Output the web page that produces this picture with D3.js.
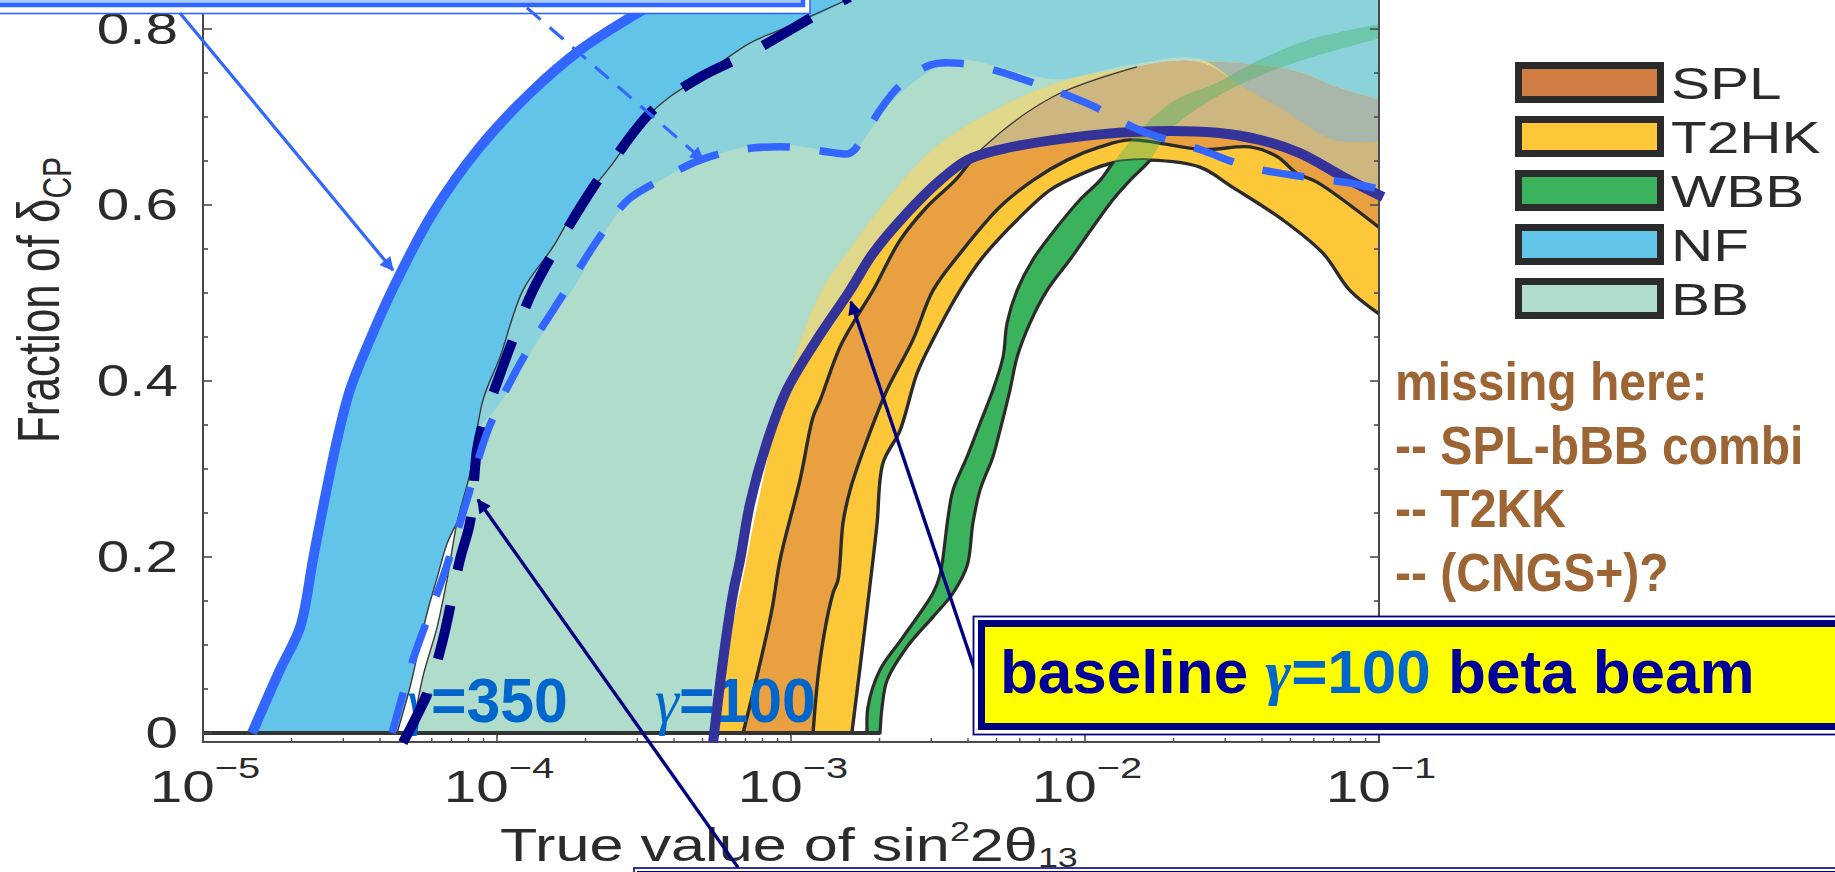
<!DOCTYPE html>
<html>
<head>
<meta charset="utf-8">
<title>Fraction of δCP vs sin²2θ13</title>
<script src="https://cdn.jsdelivr.net/npm/d3@7/dist/d3.min.js"></script>
<style>
  html, body { margin: 0; padding: 0; background: #fff; overflow: hidden; }
  svg { display: block; }
  text { font-family: "Liberation Sans", Arial, Helvetica, sans-serif; }
</style>
</head>
<body>
<svg id="chart" width="1835" height="872"></svg>
<script>
// Every curve point is [log10(sin²2θ13), fraction of δCP].

// Neutrino factory band: optimistic edge and pessimistic edge
const nfBest = [[-4.833,0],[-4.738,0.072],[-4.670,0.120],[-4.626,0.197],[-4.602,0.239],[-4.544,0.333],
  [-4.500,0.390],[-4.442,0.439],[-4.354,0.505],[-4.218,0.591],[-4.058,0.666],[-3.888,0.727],
  [-3.718,0.776],[-3.503,0.822],[-3.446,0.833]];
const nfWorst = [[-4.340,0],[-4.296,0.052],[-4.262,0.102],[-4.235,0.140],[-4.204,0.176],[-4.170,0.215],
  [-4.136,0.239],[-4.092,0.295],[-4.062,0.345],[-4.000,0.370],[-3.946,0.398],[-3.810,0.473],
  [-3.741,0.505],[-3.571,0.598],[-3.401,0.636],[-3.310,0.651],[-3.082,0.670],[-2.935,0.665],
  [-2.799,0.657],[-2.741,0.680],[-2.663,0.716],[-2.561,0.745],[-2.449,0.765],[-2.313,0.759],
  [-2.197,0.748],[-2.085,0.743],[-1.837,0.760],[-1.609,0.766],[-1.473,0.736],[-1.327,0.708],
  [-1.156,0.674],[-0.99,0.672]];

// Beta beam band: left edge; its right edge is the γ=100 curve
const bbLeft = [[-4.290,0],[-4.286,0.007],[-4.252,0.064],[-4.204,0.120],[-4.170,0.174],[-4.136,0.239],
  [-4.092,0.295],[-4.048,0.378],[-3.990,0.427],[-3.912,0.503],[-3.810,0.552],[-3.741,0.591],
  [-3.616,0.643],[-3.558,0.670],[-3.490,0.700],[-3.412,0.723],[-3.310,0.745],[-3.140,0.784],
  [-3.037,0.799],[-2.810,0.833]];
const gamma100 = [[-3.265,-0.011],[-3.231,0.083],[-3.197,0.159],[-3.173,0.197],[-3.139,0.261],
  [-3.082,0.330],[-3.014,0.390],[-2.912,0.447],[-2.799,0.503],[-2.721,0.545],[-2.605,0.591],
  [-2.493,0.628],[-2.401,0.651],[-2.289,0.663],[-2.061,0.676],[-1.837,0.683],[-1.551,0.682],
  [-1.405,0.674],[-1.269,0.659],[-1.122,0.632],[-0.986,0.609]];

// γ=350 curves
const gamma350 = [[-4.320,-0.011],[-4.238,0.045],[-4.184,0.106],[-4.126,0.197],[-4.092,0.239],
  [-4.068,0.322],[-4.048,0.352],[-4.000,0.398],[-3.946,0.447],[-3.878,0.503],[-3.810,0.545],
  [-3.673,0.620],[-3.605,0.651],[-3.469,0.708],[-3.310,0.745],[-3.139,0.773],[-2.867,0.825],
  [-2.800,0.836]];
const gamma350b = [[-4.357,0],[-4.286,0.083],[-4.238,0.128],[-4.184,0.177],[-4.102,0.265],
  [-4.031,0.344],[-3.918,0.422],[-3.793,0.489],[-3.650,0.564],[-3.554,0.606],[-3.446,0.628],
  [-3.310,0.651],[-3.173,0.663],[-3.003,0.666],[-2.867,0.660],[-2.799,0.659],[-2.748,0.680],
  [-2.697,0.708],[-2.629,0.736],[-2.527,0.759],[-2.425,0.761],[-2.306,0.753],[-2.153,0.736],
  [-1.983,0.714],[-1.813,0.685],[-1.609,0.663],[-1.439,0.643],[-1.235,0.631],[-1.099,0.625],
  [-0.986,0.617]];

// T2HK band
const t2hkUpper = [[-3.245,0],[-3.222,0.083],[-3.165,0.174],[-3.110,0.265],[-3.022,0.390],
  [-2.895,0.503],[-2.810,0.545],[-2.673,0.606],[-2.517,0.663],[-2.289,0.711],[-2.061,0.742],
  [-1.837,0.756],[-1.609,0.763],[-1.405,0.759],[-1.269,0.751],[-1.143,0.734],[-0.99,0.719]];
const t2hkLower = [[-2.793,0],[-2.765,0.075],[-2.721,0.197],[-2.707,0.239],[-2.687,0.307],
  [-2.629,0.344],[-2.571,0.409],[-2.517,0.447],[-2.425,0.503],[-2.347,0.541],[-2.231,0.583],
  [-2.119,0.617],[-2.007,0.636],[-1.905,0.648],[-1.779,0.651],[-1.609,0.643],[-1.497,0.620],
  [-1.327,0.583],[-1.190,0.545],[-1.099,0.503],[-0.99,0.474]];

// SPL band
const splUpper = [[-3.163,0],[-3.116,0.064],[-3.065,0.140],[-3.037,0.197],[-2.969,0.288],
  [-2.925,0.359],[-2.901,0.378],[-2.833,0.439],[-2.776,0.473],[-2.721,0.503],[-2.629,0.560],
  [-2.537,0.598],[-2.442,0.628],[-2.347,0.665],[-2.109,0.723],[-1.823,0.757],[-1.609,0.762],
  [-1.473,0.736],[-1.327,0.708],[-1.156,0.674],[-0.99,0.672]];
const splLower = [[-2.925,0],[-2.901,0.083],[-2.857,0.159],[-2.840,0.174],[-2.823,0.239],
  [-2.799,0.276],[-2.741,0.333],[-2.673,0.390],[-2.585,0.447],[-2.517,0.503],[-2.425,0.545],
  [-2.289,0.598],[-2.177,0.628],[-2.061,0.651],[-1.949,0.666],[-1.847,0.674],[-1.599,0.663],
  [-1.439,0.666],[-1.347,0.655],[-1.279,0.636],[-1.211,0.626],[-0.99,0.572]];

// Wide band beam band
const wbbLeft = [[-2.741,0],[-2.738,0.030],[-2.697,0.072],[-2.619,0.109],[-2.517,0.159],
  [-2.493,0.180],[-2.466,0.245],[-2.449,0.276],[-2.401,0.314],[-2.357,0.352],[-2.313,0.390],
  [-2.279,0.427],[-2.265,0.466],[-2.231,0.503],[-2.177,0.538],[-2.095,0.575],[-2.017,0.606],
  [-1.949,0.628],[-1.905,0.648],[-1.813,0.685],[-1.694,0.719],[-1.551,0.739],[-1.405,0.765],
  [-1.235,0.788],[-0.99,0.806]];
const wbbRight = [[-2.697,0],[-2.690,0.030],[-2.673,0.060],[-2.605,0.098],[-2.517,0.132],
  [-2.449,0.159],[-2.401,0.190],[-2.381,0.239],[-2.357,0.276],[-2.313,0.314],[-2.289,0.344],
  [-2.255,0.390],[-2.231,0.427],[-2.187,0.466],[-2.129,0.503],[-2.051,0.538],[-1.973,0.575],
  [-1.905,0.606],[-1.847,0.628],[-1.779,0.651],[-1.711,0.685],[-1.531,0.727],[-1.327,0.757],
  [-1.143,0.776],[-0.99,0.790]];

// Axes
const yTicks = [0, 0.2, 0.4, 0.6, 0.8];
const yTickLabels = ['0', '0.2', '0.4', '0.6', '0.8'];
const xTicks = [-5, -4, -3, -2, -1];
const xTickExponents = ['\u22125', '\u22124', '\u22123', '\u22122', '\u22121'];

// Legend
const legendNames = ['SPL', 'T2HK', 'WBB', 'NF', 'BB'];
const legendColors = ['#D07C45', '#FCC83A', '#3BB25C', '#62C4E8', '#B0DCCC'];

// Side note
const missingLines = ['missing here:', '-- SPL-bBB combi', '-- T2KK', '-- (CNGS+)?'];

// Annotation arrows: [from, to]
const arrowNF = [[-5.078, 0.818], [-4.354, 0.526]];
const arrowDashed = [[-3.898, 0.824], [-3.299, 0.651]];
const arrowBottom = [[-3.180, -0.153], [-4.065, 0.265]];
const arrowBaseline = [[-2.367, 0.064], [-2.796, 0.490]];

// ---------------------------------------------------------------
const svg = d3.select('#chart');
const x = d3.scaleLinear().domain([-5, -1]).range([203, 1379]);
const y = d3.scaleLinear().domain([0, 1]).range([733, -147]);
const padV = 0.0102;          // frame padding below 0 / above 1
const stretch = 1.33;         // horizontal stretch of the plot lettering

const lineGen = d3.line().x(d => x(d[0])).y(d => y(d[1])).curve(d3.curveCatmullRom.alpha(0.5));
const straight = d3.line().x(d => x(d[0])).y(d => y(d[1]));
const bandPath = (a, b) => lineGen(a) + lineGen(b.slice().reverse()).replace(/^M/, 'L') + 'Z';
const closeTop = [[-2.0, 1.06], [-0.9, 1.06]];

const nfPath = bandPath(nfBest.concat(closeTop), nfWorst);
const bbRight = [[-3.262, 0]].concat(gamma100.slice(1));
const bbPath = bandPath(bbLeft.concat(closeTop), bbRight);
const t2Path = bandPath(t2hkUpper, t2hkLower);
const splPath = bandPath(splUpper, splLower);
const wbbPath = bandPath(wbbLeft, wbbRight);

const defs = svg.append('defs');
defs.append('clipPath').attr('id', 'plotArea').append('rect')
  .attr('x', x(-5)).attr('y', y(1 + padV))
  .attr('width', x(-1) - x(-5)).attr('height', y(-padV) - y(1 + padV));
defs.append('clipPath').attr('id', 'inBB').append('path').attr('d', bbPath);
defs.append('clipPath').attr('id', 'inNF').append('path').attr('d', nfPath);

function makeMask(id, holes) {
  const m = defs.append('mask').attr('id', id).attr('maskUnits', 'userSpaceOnUse')
    .attr('x', 0).attr('y', -200).attr('width', 1835).attr('height', 1100);
  m.append('rect').attr('x', 0).attr('y', -200).attr('width', 1835).attr('height', 1100).attr('fill', '#fff');
  holes.forEach(p => m.append('path').attr('d', p).attr('fill', '#000'));
}
makeMask('openArea', [nfPath, bbPath, t2Path]);
makeMask('outsideBB', [bbPath]);

function marker(id, color) {
  defs.append('marker').attr('id', id).attr('viewBox', '0 0 10 10')
    .attr('refX', 9).attr('refY', 5).attr('markerWidth', 17).attr('markerHeight', 14)
    .attr('markerUnits', 'userSpaceOnUse').attr('orient', 'auto')
    .append('path').attr('d', 'M0,0L10,5L0,10Z').attr('fill', color);
}
marker('headBlue', '#3366FF');
marker('headNavy', '#000080');

// ---------------- filled bands ----------------
const fills = svg.append('g').attr('clip-path', 'url(#plotArea)');
const edgeDark = '#2b2b2b';

fills.append('path').attr('d', nfPath).attr('fill', '#62C4E8');
fills.append('path').attr('d', bbPath).attr('fill', '#B0DCCC');
fills.append('path').attr('d', nfPath).attr('fill', '#8CD2DB').attr('clip-path', 'url(#inBB)');
fills.append('path').attr('d', lineGen(bbLeft)).attr('fill', 'none')
  .attr('stroke', '#3a3a3a').attr('stroke-width', 1.4);
fills.append('path').attr('d', lineGen(nfWorst.slice(0, 7))).attr('fill', 'none')
  .attr('stroke', '#3a3a3a').attr('stroke-width', 1.4);

fills.append('path').attr('d', t2Path).attr('fill', '#FCC83A');
fills.append('path').attr('d', t2Path).attr('fill', '#DFD789').attr('clip-path', 'url(#inBB)');
fills.append('path').attr('d', t2Path).attr('fill', '#A9B7AA').attr('clip-path', 'url(#inNF)');
fills.append('path').attr('d', splPath).attr('fill', '#E8A040');
fills.append('path').attr('d', splPath).attr('fill', '#CDB67F').attr('clip-path', 'url(#inBB)');

// band outlines: heavy in the open, hairline where the beta beam shading covers them
const heavy = fills.append('g').attr('mask', 'url(#outsideBB)');
[t2hkLower, splUpper, splLower].forEach(c =>
  heavy.append('path').attr('d', lineGen(c)).attr('fill', 'none')
    .attr('stroke', edgeDark).attr('stroke-width', 3.4).attr('stroke-linejoin', 'round'));
fills.append('g').attr('clip-path', 'url(#inBB)')
  .append('path').attr('d', lineGen(splUpper.slice(0, 16))).attr('fill', 'none')
  .attr('stroke', '#3a3a3a').attr('stroke-width', 1.2);

// WBB: translucent where it crosses other bands, solid with outline in the open
fills.append('path').attr('d', wbbPath).attr('fill', '#3BB25C').attr('fill-opacity', 0.36);
fills.append('path').attr('d', wbbPath).attr('fill', '#3BB25C')
  .attr('stroke', edgeDark).attr('stroke-width', 3.2).attr('stroke-linejoin', 'round')
  .attr('mask', 'url(#openArea)');

// zero baseline of the bands
fills.append('line').attr('x1', x(-5)).attr('x2', x(wbbRight[0][0]))
  .attr('y1', y(0)).attr('y2', y(0)).attr('stroke', '#333').attr('stroke-width', 4);

// ---------------- frame and ticks ----------------
const frame = svg.append('g').attr('stroke', '#4a4a4a').attr('fill', 'none');
const fTop = y(1 + padV), fBot = y(-padV), fL = x(-5), fR = x(-1);
frame.append('rect').attr('x', fL).attr('y', fTop).attr('width', fR - fL).attr('height', fBot - fTop)
  .attr('stroke-width', 2);
d3.range(0, 1.0001, 0.05).forEach(v => {
  const major = Math.abs(v * 5 - Math.round(v * 5)) < 1e-6;
  const len = major ? 9 : 5;
  frame.append('line').attr('x1', fL).attr('x2', fL + len).attr('y1', y(v)).attr('y2', y(v)).attr('stroke-width', 1.6);
  frame.append('line').attr('x1', fR).attr('x2', fR - len).attr('y1', y(v)).attr('y2', y(v)).attr('stroke-width', 1.6);
});
xTicks.forEach((e, i) => {
  frame.append('line').attr('x1', x(e)).attr('x2', x(e)).attr('y1', fBot).attr('y2', fBot - 7).attr('stroke-width', 1.6);
  if (i < xTicks.length - 1) d3.range(2, 10).forEach(k => {
    const xv = x(e + Math.log10(k));
    frame.append('line').attr('x1', xv).attr('x2', xv).attr('y1', fBot).attr('y2', fBot - 4).attr('stroke-width', 1.4);
  });
});

// ---------------- tick labels and titles ----------------
const labelInk = '#2b2b2b';
yTicks.forEach((v, i) => {
  svg.append('g').attr('transform', `translate(178,${y(v) + 15}) scale(${stretch},1)`)
    .append('text').attr('text-anchor', 'end').attr('font-size', 44).attr('fill', labelInk)
    .text(yTickLabels[i]);
});
xTicks.forEach((e, i) => {
  const t = svg.append('g').attr('transform', `translate(${x(e) + 2},802) scale(${stretch},1)`)
    .append('text').attr('text-anchor', 'middle').attr('font-size', 44).attr('fill', labelInk);
  t.append('tspan').text('10');
  t.append('tspan').attr('font-size', 30).attr('dy', -24).text(xTickExponents[i]);
});

const xTitle = svg.append('g').attr('transform', `translate(500,861) scale(${stretch},1)`)
  .append('text').attr('font-size', 46).attr('fill', labelInk);
xTitle.append('tspan').text('True value of sin');
xTitle.append('tspan').attr('font-size', 27).attr('dy', -20).text('2');
xTitle.append('tspan').attr('dy', 20).text('2\u03B8');
xTitle.append('tspan').attr('font-size', 27).attr('dy', 6).text('13');

const yTitle = svg.append('g').attr('transform', `translate(59,300) scale(${stretch},1) rotate(-90)`)
  .append('text').attr('text-anchor', 'middle').attr('font-size', 44).attr('fill', labelInk);
yTitle.append('tspan').text('Fraction of \u03B4');
yTitle.append('tspan').attr('font-size', 30).attr('dy', 9).text('CP');

// ---------------- legend ----------------
legendNames.forEach((name, i) => {
  const top = 62 + i * 54;
  svg.append('rect').attr('x', 1518.5).attr('y', top + 3.5).attr('width', 142).attr('height', 34)
    .attr('fill', legendColors[i]).attr('stroke', '#2b2b2b').attr('stroke-width', 7);
  svg.append('g').attr('transform', `translate(1671,${top + 37}) scale(${stretch},1)`)
    .append('text').attr('font-size', 44).attr('fill', labelInk).text(name);
});

// ---------------- side note ----------------
missingLines.forEach((s, i) => {
  svg.append('g').attr('transform', `translate(1395,${400 + i * 63.5}) scale(0.89,1)`)
    .append('text').attr('font-size', 54).attr('font-weight', 'bold')
    .attr('fill', '#9D6534').text(s);
});

// ---------------- γ labels on the plot ----------------
function gammaLabel(xpx, txt) {
  const t = svg.append('g').attr('transform', `translate(${xpx},722) scale(0.965,1)`)
    .append('text').attr('font-size', 63).attr('font-weight', 'bold').attr('fill', '#0066CC');
  t.append('tspan').attr('font-family', '"Liberation Serif", "DejaVu Serif", serif')
    .attr('font-style', 'italic').attr('font-weight', 'normal').text('\u03B3');
  t.append('tspan').text(txt);
}
gammaLabel(407, '=350');
gammaLabel(655, '=100');

// ---------------- overlay curves ----------------
svg.append('path').attr('d', lineGen(gamma100)).attr('fill', 'none')
  .attr('stroke', '#333399').attr('stroke-width', 10);
svg.append('path').attr('d', lineGen(gamma350)).attr('fill', 'none')
  .attr('stroke', '#000080').attr('stroke-width', 10).attr('stroke-dasharray', '55,36');
svg.append('path').attr('d', lineGen(gamma350b)).attr('fill', 'none')
  .attr('stroke', '#3366FF').attr('stroke-width', 7.5).attr('stroke-dasharray', '42,30');
svg.append('path').attr('d', lineGen(nfBest)).attr('fill', 'none')
  .attr('stroke', '#3366FF').attr('stroke-width', 10);

// ---------------- call-out boxes and arrows ----------------
// box at the top (continues above the page)
svg.append('rect').attr('x', -20).attr('y', -60).attr('width', 830).attr('height', 73.5)
  .attr('fill', '#fff').attr('stroke', '#3366FF').attr('stroke-width', 1.6);
svg.append('rect').attr('x', -15).attr('y', -55).attr('width', 818).attr('height', 60)
  .attr('fill', '#A9CCFF').attr('stroke', '#3366FF').attr('stroke-width', 4.5);

svg.append('path').attr('d', straight(arrowNF)).attr('stroke', '#3366FF').attr('stroke-width', 3.2)
  .attr('fill', 'none').attr('marker-end', 'url(#headBlue)');
svg.append('path').attr('d', straight(arrowDashed)).attr('stroke', '#3366FF').attr('stroke-width', 3.2)
  .attr('stroke-dasharray', '18,12').attr('fill', 'none').attr('marker-end', 'url(#headBlue)');
svg.append('path').attr('d', straight(arrowBottom)).attr('stroke', '#000080').attr('stroke-width', 3.4)
  .attr('fill', 'none').attr('marker-end', 'url(#headNavy)');
svg.append('path').attr('d', straight(arrowBaseline)).attr('stroke', '#000080').attr('stroke-width', 3.4)
  .attr('fill', 'none').attr('marker-end', 'url(#headNavy)');

// box at the bottom (continues below the page)
svg.append('rect').attr('x', 634).attr('y', 868).attr('width', 1300).attr('height', 60)
  .attr('fill', '#fff').attr('stroke', '#000080').attr('stroke-width', 1.6);
svg.append('rect').attr('x', 639).attr('y', 873).attr('width', 1290).attr('height', 50)
  .attr('fill', '#fff').attr('stroke', '#000080').attr('stroke-width', 4);

// yellow call-out
svg.append('rect').attr('x', 973.5).attr('y', 616.5).attr('width', 900).attr('height', 118)
  .attr('fill', '#fff').attr('stroke', '#000080').attr('stroke-width', 1.8);
svg.append('rect').attr('x', 981.5).attr('y', 623.5).attr('width', 900).attr('height', 103)
  .attr('fill', '#FFFF00').attr('stroke', '#000080').attr('stroke-width', 7);
const cap = svg.append('text').attr('x', 1000).attr('y', 693).attr('font-size', 62)
  .attr('font-weight', 'bold').attr('fill', '#000099');
cap.append('tspan').text('baseline ');
cap.append('tspan').attr('fill', '#0066CC').attr('font-family', '"Liberation Serif", "DejaVu Serif", serif')
  .attr('font-style', 'italic').text('\u03B3');
cap.append('tspan').attr('fill', '#0066CC').text('=100');
cap.append('tspan').text(' beta beam');
</script>
</body>
</html>
